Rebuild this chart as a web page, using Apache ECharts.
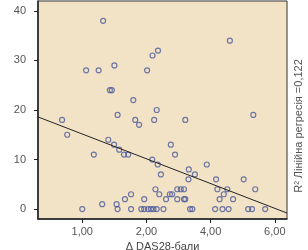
<!DOCTYPE html>
<html>
<head>
<meta charset="utf-8">
<script src="https://cdn.jsdelivr.net/npm/echarts@6/dist/echarts.min.js"></script>
<style>
html, body { margin: 0; padding: 0; background: #fff; }
#scatter { width: 308px; height: 250px; }
</style>
</head>
<body>
<div id="scatter"></div>
<script>
// Δ DAS28 (x) and Δ PH (y) per patient
var dasDelta = [0.65, 0.12, 0.51, 1.00, 0.86, 0.92, 1.59, 1.10, 1.65, 1.77,
    -0.63, 2.02, 2.19, 2.36, 2.32, 2.24, 4.60, 3.21, 5.33, -0.47,
    0.36, 0.81, 0.99, 1.15, 1.30, 1.43, 2.18, 2.35, 2.45, 2.76,
    2.89, 3.32, 3.51, 3.31, 3.88, 4.17, 5.03, 0.00, 0.62, 1.07,
    1.10, 1.33, 1.52, 1.52, 1.93, 2.28, 2.40, 2.73, 2.80, 2.96,
    3.07, 3.17, 2.61, 2.96, 3.17, 3.21, 4.21, 4.52, 4.41, 4.28,
    4.70, 5.39, 1.84, 1.93, 2.05, 2.14, 2.22, 2.32, 2.53, 3.36,
    3.43, 4.14, 4.37, 4.56, 5.17, 5.29, 5.70];
var phDelta = [38, 28, 28, 29, 24, 24, 22, 19, 18, 17,
    18, 28, 31, 32, 20, 18, 34, 18, 19, 15,
    11, 14, 13, 12, 11, 11, 10, 9, 7, 13,
    11, 8, 7, 6, 9, 6, 6, 0, 1, 1,
    0, 2, 3, 0, 2, 4, 3, 3, 3, 4,
    4, 4, 2, 2, 2, 2, 4, 4, 3, 2,
    2, 4, 0, 0, 0, 0, 0, 0, 0, 0,
    0, 0, 0, 0, 0, 0, 0];

// fitted line, taken at the plot edges
var regressionLine = [[-1.38, 18.6], [6.38, -0.8]];

var xTickValues = [0, 2, 4, 6];
var xTickLabels = ['1,00', '2,00', '4,00', '6,00'];
var yTickValues = [0, 10, 20, 30, 40];

var points = dasDelta.map(function (x, i) { return [x, phDelta[i]]; });

var chart = echarts.init(document.getElementById('scatter'));
var fontName = '"Liberation Sans", Arial, sans-serif';

chart.setOption({
    animation: false,
    textStyle: { fontFamily: fontName },
    grid: {
        left: 38,
        right: 21,
        top: 1,
        bottom: 31,
        containLabel: false,
        outerBoundsMode: 'none',
        show: true,
        backgroundColor: '#f3e3c6',
        borderColor: '#333',
        borderWidth: 1
    },
    xAxis: {
        type: 'value',
        min: -1.38,
        max: 6.38,
        name: 'Δ DAS28-бали',
        nameLocation: 'middle',
        nameGap: 18,
        nameTextStyle: { color: '#444', fontSize: 11, fontFamily: fontName },
        axisLine: { onZero: false, lineStyle: { color: '#222', width: 1.5 } },
        axisTick: { customValues: xTickValues, length: 4, lineStyle: { color: '#222' } },
        axisLabel: {
            customValues: xTickValues,
            color: '#555',
            fontSize: 11,
            margin: 7,
            fontFamily: fontName,
            formatter: function (v) {
                var k = xTickValues.indexOf(v);
                return k < 0 ? '' : xTickLabels[k];
            }
        },
        splitLine: { show: false }
    },
    yAxis: {
        type: 'value',
        min: -2,
        max: 42,
        name: 'Δ PH-бали',
        nameLocation: 'middle',
        nameGap: 21,
        nameTextStyle: { color: '#444', fontSize: 11, fontFamily: fontName },
        axisLine: { onZero: false, lineStyle: { color: '#222', width: 1.5 } },
        axisTick: { customValues: yTickValues, length: 4, lineStyle: { color: '#222' } },
        axisLabel: {
            customValues: yTickValues,
            color: '#555',
            fontSize: 11,
            margin: 12,
            fontFamily: fontName
        },
        splitLine: { show: false }
    },
    graphic: [{
        type: 'text',
        x: 299,
        y: 126,
        rotation: Math.PI / 2,
        style: {
            text: 'R² Лінійна регресія =0,122',
            fill: '#555',
            font: '11px ' + fontName,
            align: 'center',
            verticalAlign: 'middle'
        }
    }],
    series: [{
        type: 'scatter',
        data: points,
        symbol: 'circle',
        symbolSize: 5,
        itemStyle: {
            color: 'transparent',
            borderColor: '#4b5a9b',
            borderWidth: 1.2
        }
    }, {
        type: 'line',
        data: regressionLine,
        symbol: 'none',
        clip: false,
        z: 3,
        lineStyle: { color: '#222', width: 1 }
    }]
});
</script>
</body>
</html>
